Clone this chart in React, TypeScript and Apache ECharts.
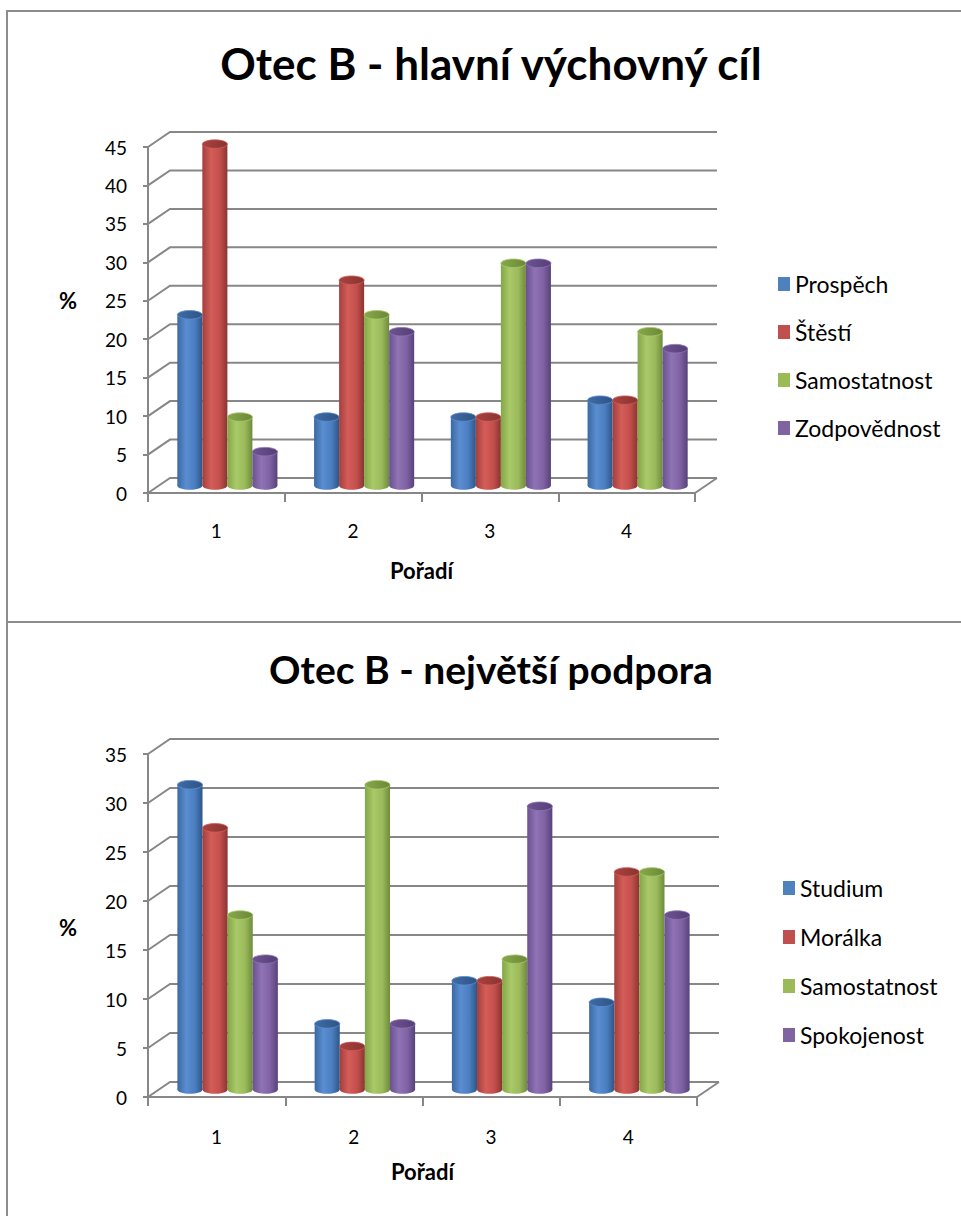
import React, { useEffect, useRef } from "react";
import * as echarts from "echarts";

// ---------- data ----------
const categories = ["1", "2", "3", "4"];

const yTicks1 = [0, 5, 10, 15, 20, 25, 30, 35, 40, 45];
const yTicks2 = [0, 5, 10, 15, 20, 25, 30, 35];

const title1 = "Otec B - hlavní výchovný cíl";
const names1 = ["Prospěch", "Štěstí", "Samostatnost", "Zodpovědnost"];
const prospech = [22.2, 8.9, 8.9, 11.1];
const stesti = [44.4, 26.7, 8.9, 11.1];
const samostatnost1 = [8.9, 22.2, 28.9, 20.0];
const zodpovednost = [4.4, 20.0, 28.9, 17.8];

const title2 = "Otec B - největší podpora";
const names2 = ["Studium", "Morálka", "Samostatnost", "Spokojenost"];
const studium = [31.1, 6.7, 11.1, 8.9];
const moralka = [26.7, 4.4, 11.1, 22.2];
const samostatnost2 = [17.8, 31.1, 13.3, 22.2];
const spokojenost = [13.3, 6.7, 28.9, 17.8];

const xName = "Pořadí";
const yName = "%";

// ---------- style ----------
const FONT = "Lato, Carlito, 'Noto Sans', sans-serif";
const GRID = "#878787";
const BORDER = "#8c8c8c";
const DX = 22;
const DY = 15;
const COLORS = ["#4F81BD", "#C0504D", "#9BBB59", "#8064A2"];
const SHADES = [
  ["#3a68a3", "#5a8ed1", "#4a7ec0", "#2e5689"],
  ["#a23f3c", "#d45d59", "#c34f4c", "#8a3431"],
  ["#83a647", "#aac969", "#9aba5b", "#6f8b3a"],
  ["#6a5190", "#8f73b4", "#7e62a3", "#57427a"],
];
const CAPS = [
  ["#3f6ba5", "#2f5486"],
  ["#a9423f", "#8a3431"],
  ["#86a94a", "#6c8838"],
  ["#6d5392", "#553f77"],
];

function grad(stops: string[]) {
  const n = stops.length - 1;
  const offs = n === 3 ? [0, 0.35, 0.7, 1] : stops.map((_, i) => i / n);
  return new echarts.graphic.LinearGradient(
    0,
    0,
    1,
    0,
    stops.map((c, i) => ({ offset: offs[i], color: c }))
  );
}

function barSeries(name: string, values: number[], sIdx: number) {
  return {
    type: "custom",
    name,
    z: 3,
    itemStyle: { color: COLORS[sIdx] },
    data: values.map((v, i) => [i, v]),
    encode: { x: 0, y: 1 },
    renderItem: (params: any, api: any) => {
      const i = api.value(0);
      const v = api.value(1);
      const base = api.coord([i, 0]);
      const top = api.coord([i, v]);
      const band = api.size([1, 0])[0];
      const w = band * 0.183;
      const cx = base[0] + DX / 2 + (sIdx - 1.5) * w;
      const yb = base[1] - DY / 2;
      const yt = top[1] - DY / 2;
      const rx = w / 2;
      const ry = w * 0.17;
      const sh = SHADES[sIdx];
      return {
        type: "group",
        children: [
          {
            type: "ellipse",
            shape: { cx, cy: yb, rx, ry },
            style: { fill: grad(sh) },
          },
          {
            type: "rect",
            shape: { x: cx - rx, y: yt, width: w, height: yb - yt },
            style: { fill: grad(sh) },
          },
          {
            type: "ellipse",
            shape: { cx, cy: yt, rx, ry },
            style: { fill: grad(CAPS[sIdx]), stroke: sh[1], lineWidth: 0.8 },
          },
        ],
      };
    },
  };
}

function gridSeries(ticks: number[]) {
  return {
    type: "custom",
    name: "grid3d",
    silent: true,
    z: 1,
    data: ticks.map((t) => [0, t]),
    encode: { x: 0, y: 1 },
    renderItem: (params: any, api: any) => {
      const v = api.value(1);
      const cs = params.coordSys;
      const y = api.coord([0, v])[1];
      const x0 = cs.x;
      const x1 = cs.x + cs.width;
      const children: any[] = [
        {
          type: "polyline",
          shape: {
            points: [
              [x0, y],
              [x0 + DX, y - DY],
              [x1 + DX, y - DY],
            ],
          },
          style: { stroke: GRID, lineWidth: 2, fill: "none" },
        },
      ];
      if (v === 0) {
        children.push({
          type: "line",
          shape: { x1: x1, y1: y, x2: x1 + DX, y2: y - DY },
          style: { stroke: GRID, lineWidth: 2 },
        });
      }
      return { type: "group", children };
    },
  };
}

type Cfg = {
  top: number;
  height: number;
  title: string;
  titleTop: number;
  titleSize: number;
  names: string[];
  values: number[][];
  yTicks: number[];
  grid: { left: number; top: number; width: number; height: number };
  legendLeft: number;
  legendTop: number;
  legendGap: number;
  pctY: number;
  xLabelMargin: number;
  xNameGap: number;
  borderTopY: number;
};

function buildOption(c: Cfg) {
  const yMax = c.yTicks[c.yTicks.length - 1];
  return {
    animation: false,
    title: {
      text: c.title,
      left: 491,
      textAlign: "center",
      top: c.titleTop,
      padding: 0,
      textStyle: {
        fontFamily: FONT,
        fontSize: c.titleSize,
        fontWeight: "bold",
        color: "#000",
      },
    },
    legend: {
      orient: "vertical",
      left: c.legendLeft,
      top: c.legendTop,
      padding: 0,
      data: c.names,
      icon: "rect",
      itemWidth: 12,
      itemHeight: 14,
      itemGap: c.legendGap,
      textStyle: {
        fontFamily: FONT,
        fontSize: 23,
        color: "#000",
        lineHeight: 28,
      },
    },
    grid: { ...c.grid },
    xAxis: {
      type: "category",
      data: categories,
      boundaryGap: true,
      axisLine: { show: true, lineStyle: { color: GRID, width: 2 } },
      axisTick: { show: true, length: 9, lineStyle: { color: GRID, width: 2 } },
      axisLabel: {
        fontFamily: FONT,
        fontSize: 19,
        color: "#000",
        margin: c.xLabelMargin,
      },
      name: xName,
      nameLocation: "middle",
      nameGap: c.xNameGap,
      nameTextStyle: {
        fontFamily: FONT,
        fontSize: 22,
        fontWeight: "bold",
        color: "#000",
      },
    },
    yAxis: {
      type: "value",
      min: 0,
      max: yMax,
      interval: 5,
      axisLine: { show: true, lineStyle: { color: GRID, width: 2 } },
      axisTick: { show: true, length: 5, lineStyle: { color: GRID, width: 2 } },
      splitLine: { show: false },
      axisLabel: {
        fontFamily: FONT,
        fontSize: 19,
        color: "#000",
        margin: 21,
      },
    },
    graphic: [
      {
        type: "line",
        shape: { x1: 6, y1: c.borderTopY, x2: 961, y2: c.borderTopY },
        style: { stroke: BORDER, lineWidth: 2 },
        silent: true,
      },
      {
        type: "line",
        shape: { x1: 7, y1: c.borderTopY - 1, x2: 7, y2: c.height + 2 },
        style: { stroke: BORDER, lineWidth: 2 },
        silent: true,
      },
      {
        type: "text",
        x: 68,
        y: c.pctY,
        silent: true,
        style: {
          text: yName,
          fontFamily: FONT,
          fontSize: 22,
          fontWeight: "bold",
          fill: "#000",
          align: "center",
          verticalAlign: "middle",
        },
      },
    ],
    series: [
      gridSeries(c.yTicks),
      ...c.values.map((vals, s) => barSeries(c.names[s], vals, s)),
    ],
  };
}

const cfg1: Cfg = {
  top: 0,
  height: 621,
  title: title1,
  titleTop: 41,
  titleSize: 44,
  names: names1,
  values: [prospech, stesti, samostatnost1, zodpovednost],
  yTicks: yTicks1,
  grid: { left: 148, top: 147, width: 547, height: 346 },
  legendLeft: 778,
  legendTop: 270,
  legendGap: 20,
  pctY: 300,
  xLabelMargin: 28,
  xNameGap: 66,
  borderTopY: 11,
};

const cfg2: Cfg = {
  top: 621,
  height: 595,
  title: title2,
  titleTop: 28,
  titleSize: 39,
  names: names2,
  values: [studium, moralka, samostatnost2, spokojenost],
  yTicks: yTicks2,
  grid: { left: 148, top: 133, width: 549, height: 343 },
  legendLeft: 783,
  legendTop: 253,
  legendGap: 21,
  pctY: 306,
  xLabelMargin: 30,
  xNameGap: 63,
  borderTopY: 1,
};

function Chart3D({ cfg }: { cfg: Cfg }) {
  const ref = useRef<HTMLDivElement>(null);
  useEffect(() => {
    if (!ref.current) return;
    const chart = echarts.init(ref.current, null, { renderer: "svg" });
    chart.setOption(buildOption(cfg) as any);
    return () => chart.dispose();
  }, [cfg]);
  return (
    <div
      ref={ref}
      style={{
        position: "absolute",
        left: 0,
        top: cfg.top,
        width: 961,
        height: cfg.height,
      }}
    />
  );
}

export default function App() {
  return (
    <div
      style={{
        position: "absolute",
        left: 0,
        top: 0,
        width: 961,
        height: 1216,
        background: "#fff",
        overflow: "hidden",
      }}
    >
      <Chart3D cfg={cfg1} />
      <Chart3D cfg={cfg2} />
    </div>
  );
}
